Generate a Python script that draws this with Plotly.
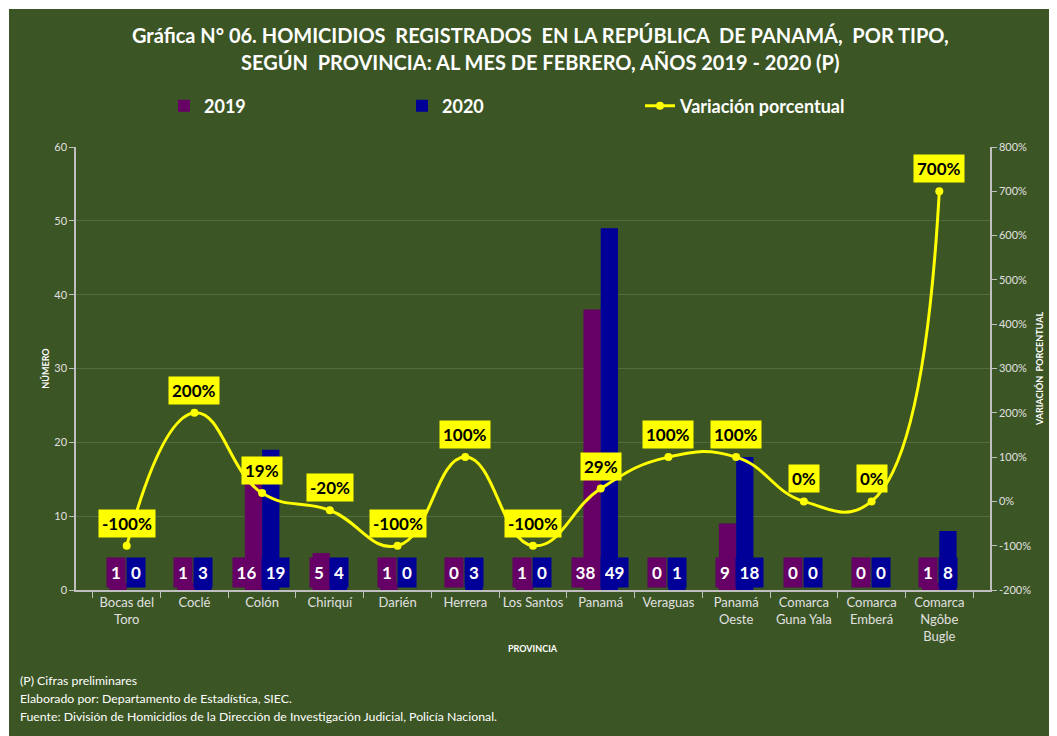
import plotly.graph_objects as go

# ---------------- data ----------------
provincias = ["Bocas del<br>Toro", "Coclé", "Colón", "Chiriquí", "Darién", "Herrera",
              "Los Santos", "Panamá", "Veraguas", "Panamá<br>Oeste",
              "Comarca<br>Guna Yala", "Comarca<br>Emberá", "Comarca<br>Ngôbe<br>Bugle"]
h2019 = [1, 1, 16, 5, 1, 0, 1, 38, 0, 9, 0, 0, 1]
h2020 = [0, 3, 19, 4, 0, 3, 0, 49, 1, 18, 0, 0, 8]
variacion = [-100, 200, 18.75, -20, -100, 100, -100, 28.95, 100, 100, 0, 0, 700]
y2_ticks = [-200, -100, 0, 100, 200, 300, 400, 500, 600, 700, 800]

# ---------------- geometry helpers ----------------
OFF = 8  # page offset
W, H = 1057, 736
L, R, T, B = 68, 75, 139, 154
PW, PH = W - L - R, H - T - B


def px(x):  # screen x -> paper
    return (x - OFF - L) / PW


def py(y):  # screen y -> paper
    return (H - B - (y - OFF)) / PH


GREEN = "#3B5524"
PURPLE = "#660066"
BLUE = "#000099"
YELLOW = "#FFFF00"
FONT = "Lato, 'Open Sans', sans-serif"

fig = go.Figure()
fig.add_trace(go.Bar(x=provincias, y=h2019, name="2019", marker_color=PURPLE,
                     marker_line_width=0))
fig.add_trace(go.Bar(x=provincias, y=h2020, name="2020", marker_color=BLUE,
                     marker_line_width=0))
fig.add_trace(go.Scatter(x=provincias, y=variacion, name="Variación porcentual",
                         yaxis="y2", mode="lines+markers",
                         line=dict(color=YELLOW, width=3, shape="spline", smoothing=1.3),
                         marker=dict(color=YELLOW, size=8)))

annotations = []
# bar value labels (boxes at the base of the bars)
for cat, a, b in zip(provincias, h2019, h2020):
    for val, col, anchor in ((a, PURPLE, "right"), (b, BLUE, "left")):
        annotations.append(dict(x=cat, y=0, xref="x", yref="y", text=f"<b>{val}</b>",
                                showarrow=False, xanchor=anchor, yanchor="bottom",
                                xshift=-1, yshift=2, bgcolor=col, borderpad=4,
                                width=10 if val < 10 else 19, height=21,
                                font=dict(family=FONT, size=17, color="white")))
# line labels
for cat, v in zip(provincias, variacion):
    annotations.append(dict(x=cat, y=v, xref="x", yref="y2", text=f"<b>{round(v)}%</b>",
                            showarrow=False, xanchor="center", yanchor="bottom",
                            yshift=8, bgcolor=YELLOW, borderpad=3,
                            font=dict(family=FONT, size=17, color="black")))
# title
annotations.append(dict(xref="paper", yref="paper", x=px(540), y=py(35),
                        text="<b>Gráfica N° 06. HOMICIDIOS\u00a0 REGISTRADOS\u00a0 EN LA REPÚBLICA\u00a0 DE PANAMÁ,\u00a0 POR TIPO,</b>",
                        showarrow=False, xanchor="center", yanchor="middle",
                        font=dict(family=FONT, size=20, color="white")))
annotations.append(dict(xref="paper", yref="paper", x=px(540), y=py(62),
                        text="<b>SEGÚN\u00a0 PROVINCIA: AL MES DE FEBRERO, AÑOS 2019 - 2020 (P)</b>",
                        showarrow=False, xanchor="center", yanchor="middle",
                        font=dict(family=FONT, size=20, color="white")))
# x axis title
annotations.append(dict(xref="paper", yref="paper", x=px(533), y=py(648),
                        text="<b>PROVINCIA</b>", showarrow=False,
                        xanchor="center", yanchor="middle",
                        font=dict(family=FONT, size=9, color="white")))
# footer
for ypix, txt in [(680, "(P) Cifras preliminares"),
                  (698, "Elaborado por: Departamento de Estadística, SIEC."),
                  (716, "Fuente: División de Homicidios de la Dirección de Investigación Judicial, Policía Nacional.")]:
    annotations.append(dict(xref="paper", yref="paper", x=px(18), y=py(ypix), text=txt,
                            showarrow=False, xanchor="left", yanchor="middle",
                            font=dict(family=FONT, size=12.3, color="white")))

# white page strip along the top and left edge of the picture
shapes = [
    dict(type="rect", xref="paper", yref="paper", x0=px(-20), x1=px(W + 20), y0=py(9), y1=py(-20),
         fillcolor="white", line_width=0, layer="below"),
    dict(type="rect", xref="paper", yref="paper", x0=px(-20), x1=px(9), y0=py(H + 20), y1=py(-20),
         fillcolor="white", line_width=0, layer="below"),
]

AXC = "#BFBFBF"
TICKC = "#E0E0E0"

fig.update_layout(
    width=W, height=H,
    margin=dict(l=L, r=R, t=T, b=B, autoexpand=False),
    paper_bgcolor=GREEN, plot_bgcolor=GREEN,
    barmode="group", bargap=0.49, bargroupgap=0,
    font=dict(family=FONT, color="white"),
    showlegend=True,
    legend=dict(orientation="h", x=px(164), y=py(106), xanchor="left", yanchor="middle",
                entrywidth=193, entrywidthmode="pixels", bgcolor="rgba(0,0,0,0)",
                font=dict(family=FONT, size=18, color="white", weight="bold"),
                traceorder="normal"),
    xaxis=dict(type="category", tickson="boundaries", ticks="outside", ticklen=6,
               tickcolor=AXC, showline=True, linecolor=AXC, linewidth=1.5,
               tickangle=0,
               tickfont=dict(family=FONT, size=13, color=TICKC), automargin=False,
               showgrid=False),
    yaxis=dict(range=[0, 60], dtick=10, showgrid=True, gridcolor="rgba(255,255,255,0.13)",
               gridwidth=1, showline=True, linecolor=AXC, linewidth=1.5, ticks="outside",
               ticklen=5, tickcolor=AXC, tickfont=dict(family=FONT, size=11, color=TICKC),
               title=dict(text="<b>NÚMERO</b>", standoff=3,
                          font=dict(family=FONT, size=9, color="white")),
               automargin=False, zeroline=False),
    yaxis2=dict(range=[-200, 800], overlaying="y", side="right", showgrid=False,
                tickvals=y2_ticks, ticktext=[f"{v}%" for v in y2_ticks],
                showline=True, linecolor=AXC, linewidth=1.5, ticks="outside", ticklen=5,
                tickcolor=AXC, tickfont=dict(family=FONT, size=11, color=TICKC),
                title=dict(text="<b>VARIACIÓN\u00a0 PORCENTUAL</b>", standoff=7,
                           font=dict(family=FONT, size=9, color="white")),
                automargin=False, zeroline=False),
    annotations=annotations,
    shapes=shapes,
)

fig.write_html("out.html")
